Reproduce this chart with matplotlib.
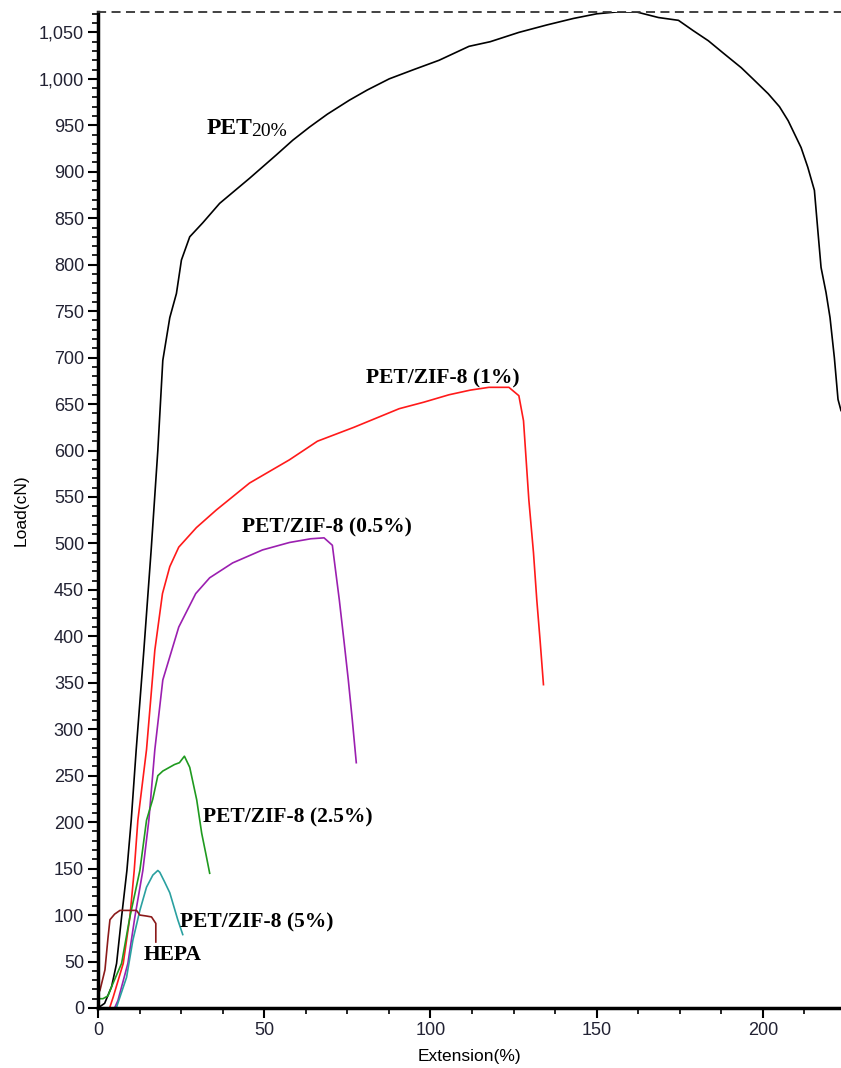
import matplotlib.pyplot as plt
from matplotlib.ticker import MultipleLocator, FuncFormatter

# PET 20% (black)
pet_x = [0, 2, 4.1, 5.6, 7.1, 8.7, 10, 11.5, 13.8, 16, 18, 19.5, 21.6, 23.6, 25.1, 27.6, 31.5, 36.6,
         45.6, 53.6, 58.6, 63.6, 69, 75.6, 81, 87.6, 95, 102.6, 111.6, 118, 126.6, 135, 143, 150,
         156, 162, 168.6, 174.6, 179, 183.6, 188, 193.5, 197, 201.6, 205, 207.6, 211.5, 213.5,
         215.5, 216.6, 217.5, 219, 220.2, 221.5, 222.6, 223.5]
pet_y = [0, 5, 23, 48, 98, 148, 202, 278, 385, 493, 600, 697, 743, 769, 805, 830, 845, 866,
         893, 918, 934, 948, 962, 977, 988, 1000, 1010, 1020, 1035, 1040, 1050, 1058, 1065, 1070,
         1072, 1072, 1066, 1063, 1052, 1041, 1028, 1012, 1000, 984, 970, 955, 926, 905,
         880, 834, 797, 770, 743, 700, 655, 643]

# PET/ZIF-8 (1%) (red)
r1_x = [3.5, 4.6, 7.6, 9.6, 10.9, 12, 14.6, 17.1, 19.4, 21.6, 24.3, 29.6, 35.6, 45.6, 57.6, 66, 77,
        90.6, 98, 105.6, 112, 117.6, 123.6, 126.6, 128, 129.6, 131, 132, 133, 134]
r1_y = [0, 12, 48, 98, 148, 202, 278, 385, 446, 475, 496, 517, 536, 565, 590, 610, 625,
        645, 652, 660, 665, 668, 668, 659, 632, 547, 490, 439, 395, 348]

# PET/ZIF-8 (0.5%) (purple)
r05_x = [5, 6, 9, 11.1, 13.5, 15.3, 17.1, 19.5, 24.3, 29.4, 33.6, 40.5, 49.5, 57.6, 64, 68,
         70.5, 72.6, 74, 75.3, 76.5, 77.7]
r05_y = [0, 8, 48, 98, 148, 202, 278, 353, 410, 446, 463, 479, 493, 501, 505, 506,
         498, 439, 395, 353, 310, 264]

# PET/ZIF-8 (2.5%) (green)
r25_x = [0, 1.5, 3, 4.1, 7.1, 9.6, 12.6, 14.6, 16.5, 18, 19.5, 21, 23, 24.5, 26, 27.6, 29.7, 31.2, 32.5, 33.6]
r25_y = [10, 10, 13, 23, 48, 98, 148, 202, 225, 250, 255, 258, 262, 264, 271, 259, 224, 188, 165, 145]

# PET/ZIF-8 (5%) (teal)
r5_x = [5, 5.6, 8.6, 10.5, 12.6, 14.6, 16.5, 18, 18.6, 20, 21.6, 24, 25.5]
r5_y = [0, 1, 33, 73, 105, 130, 143, 148, 146, 136, 124, 95, 79]

# HEPA (dark red)
hepa_x = [0, 0.6, 2.1, 3, 3.6, 5, 6.6, 9, 11.6, 12.6, 14.5, 16.1, 17.4, 17.4]
hepa_y = [15, 19, 41, 75, 95, 101, 105, 105, 105, 100, 99, 98, 91, 71]

labels = ['PET/ZIF-8 (1%)', 'PET/ZIF-8 (0.5%)', 'PET/ZIF-8 (2.5%)', 'PET/ZIF-8 (5%)', 'HEPA']
label_x = [80.7, 43.2, 31.5, 24.8, 13.6]
label_y = [672, 512, 200, 87, 52]

fig = plt.figure(figsize=(8.41, 10.68), dpi=100)
ax = fig.add_axes([0.1165, 0.0562, 0.8835, 0.9326])

lw = 1.2
ax.plot(pet_x, pet_y, color='black', lw=lw)
ax.plot(r1_x, r1_y, color='#ff1a1a', lw=lw)
ax.plot(r05_x, r05_y, color='#9b1fb0', lw=lw)
ax.plot(r25_x, r25_y, color='#1f9a1f', lw=lw)
ax.plot(r5_x, r5_y, color='#2aa0a0', lw=lw)
ax.plot(hepa_x, hepa_y, color='#8b1a1a', lw=lw)

serif = 'Liberation Serif'
ax.text(32.7, 941, 'PET', family=serif, fontweight='bold', fontsize=17, va='baseline', ha='left')
ax.text(46.2, 939, '20%', family=serif, fontsize=14, va='baseline', ha='left')
for s, lx, ly in zip(labels, label_x, label_y):
    ax.text(lx, ly, s, family=serif, fontweight='bold', fontsize=15.5, va='baseline', ha='left')

ax.set_xlim(0, 223.5)
ax.set_ylim(0, 1072)

ax.spines['right'].set_visible(False)
ax.spines['top'].set_linestyle((0, (4, 4)))
ax.spines['top'].set_color('#333333')
ax.spines['top'].set_linewidth(1.3)
ax.spines['left'].set_linewidth(2.5)
ax.spines['bottom'].set_linewidth(2.5)

ax.xaxis.set_major_locator(MultipleLocator(50))
ax.xaxis.set_minor_locator(MultipleLocator(12.5))
ax.yaxis.set_major_locator(MultipleLocator(50))
ax.yaxis.set_minor_locator(MultipleLocator(10))
ax.yaxis.set_major_formatter(FuncFormatter(lambda v, p: f'{int(v):,}'))

ax.tick_params(which='major', direction='out', length=7, width=1.5,
               labelsize=13, labelcolor='#222233', pad=3)
ax.tick_params(which='minor', direction='out', length=4, width=1.2)
for t in ax.get_xticklabels() + ax.get_yticklabels():
    t.set_family('Liberation Sans')

ax.set_xlabel('Extension(%)', family='Liberation Sans', fontsize=12.5, labelpad=7)
ax.set_ylabel('Load(cN)', family='Liberation Sans', fontsize=12.5, labelpad=7)

fig.savefig('out.png', dpi=100)
